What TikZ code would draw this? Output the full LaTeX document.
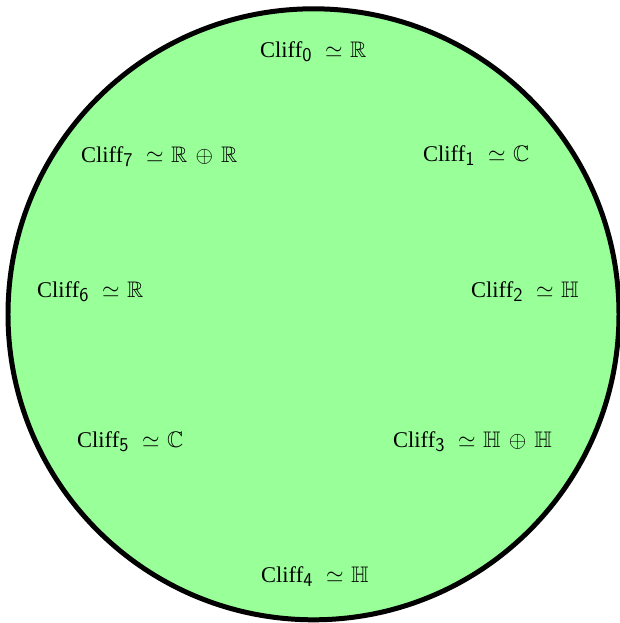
\documentclass[tikz,border=0pt]{standalone}
\usepackage{amssymb}
\usepackage[no-math]{fontspec}
\setmainfont{Liberation Serif}
\definecolor{lightgreen}{RGB}{153,255,153}
\newcommand{\clf}[1]{Cliff\raisebox{-4.6pt}{\fontsize{18}{18}\sffamily #1}\hspace{12.5pt}$\simeq$\hspace{7pt}}
\newcommand{\dsum}[1]{$#1\mkern2.5mu\oplus\mkern2.5mu#1$}
\begin{document}
\begin{tikzpicture}[x=0.9218pt,y=-0.9218pt,
  lbl/.style={anchor=base west, inner sep=0pt, font=\huge}]
\useasboundingbox (0,0) rectangle (620,623);
\path[draw=black, line width=4.6pt, fill=lightgreen] (313.5,314.3) circle[radius=305.5];
\node[lbl] (c0) at (260,57) {\clf{0}$\mathbb{R}$};
\node[lbl] (c1) at (423,161) {\clf{1}$\mathbb{C}$};
\node[lbl] (c2) at (471,297) {\clf{2}$\mathbb{H}$};
\node[lbl] (c3) at (393,447) {\clf{3}\dsum{\mathbb{H}}};
\node[lbl] (c4) at (261,582) {\clf{4}$\mathbb{H}$};
\node[lbl] (c5) at (77,447) {\clf{5}$\mathbb{C}$};
\node[lbl] (c6) at (37,297) {\clf{6}$\mathbb{R}$};
\node[lbl] (c7) at (81,162) {\clf{7}\dsum{\mathbb{R}}};
\end{tikzpicture}
\end{document}
